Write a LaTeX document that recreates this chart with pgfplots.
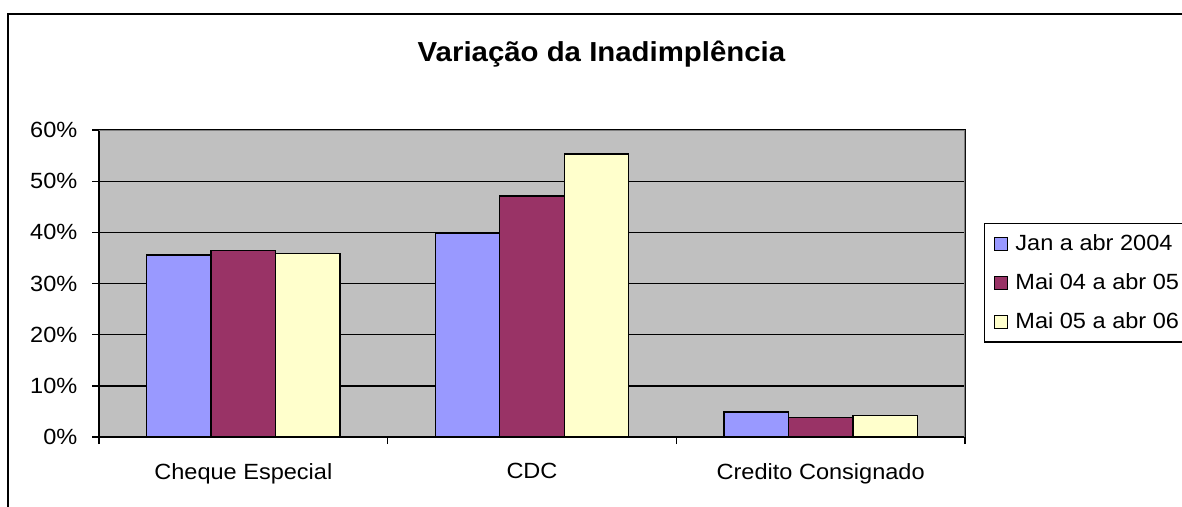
\documentclass[border=0pt]{standalone}
\usepackage{fontspec}
\setmainfont{Liberation Sans}[FakeStretch=1.07]
\usepackage{pgfplots}
\pgfplotsset{compat=1.18}
\definecolor{cblue}{HTML}{9999FF}
\definecolor{cmaroon}{HTML}{993366}
\definecolor{cyellow}{HTML}{FFFFCC}
\definecolor{cbg}{HTML}{C0C0C0}
\definecolor{cgrayline}{HTML}{808080}
\newcommand{\lblfont}{\fontsize{16.5}{19.8}\selectfont}
\begin{document}
\begin{tikzpicture}[x=0.75pt,y=0.75pt]
\useasboundingbox (0,0) rectangle (1182,507);
\clip (0,0) rectangle (1182,507);
\draw[line width=1.5pt] (8,-5) -- (8,493) -- (1190,493);
\node[font=\fontsize{20.6}{24}\selectfont\bfseries, anchor=base, inner sep=0pt] at (601.5,445.5) {Variação da Inadimplência};
\begin{axis}[
  at={(74.25pt,52.5pt)}, anchor=south west,
  width=649.5pt, height=230.25pt, scale only axis,
  xmin=-0.5, xmax=2.5, ymin=0, ymax=60,
  xtick={-0.5,0.5,1.5,2.5},
  x tick label as interval,
  xticklabels={Cheque Especial,CDC,Credito Consignado},
  ytick={0,10,20,30,40,50,60},
  /pgf/number format/assume math mode=true,
  yticklabel={\pgfmathprintnumber{\tick}\%},
  tick label style={font=\lblfont},
  xticklabel style={yshift=-11pt},
  yticklabel style={xshift=-7.5pt},
  xtick pos=bottom, ytick pos=left,
  tick align=outside,
  major tick length=5.25pt,
  every tick/.style={black, line width=1pt},
  axis background/.style={fill=cbg},
  axis line style={black, line width=1pt},
  ymajorgrids,
  major grid style={black, line width=1pt},
  ybar=0pt,
  bar width=48.375pt,
  legend style={at={(1.0219,0.697)}, anchor=north west, draw=black, line width=1pt, fill=white,
    font=\lblfont, inner xsep=6.75pt, inner ysep=7pt, row sep=13pt,
    nodes={inner sep=0pt, text height=12.75pt, text depth=3.5pt}},
  legend cell align=left,
  legend image code/.code={\draw[#1, line width=0.75pt] (0pt,-4.9pt) rectangle (9.8pt,4.9pt); \path (15.5pt,0pt);},
]
\addplot[fill=cblue, draw=black, line width=1pt] coordinates {(0,35.6) (1,39.8) (2,4.9)};
\addplot[fill=cmaroon, draw=black, line width=1pt] coordinates {(0,36.5) (1,47.1) (2,3.8)};
\addplot[fill=cyellow, draw=black, line width=1pt] coordinates {(0,35.8) (1,55.3) (2,4.2)};
\legend{Jan a abr 2004, Mai 04 a abr 05, Mai 05 a abr 06}
\draw[cgrayline, line width=1pt] (rel axis cs:0,1) -- (rel axis cs:1,1) -- (rel axis cs:1,0);
\end{axis}
\end{tikzpicture}
\end{document}
